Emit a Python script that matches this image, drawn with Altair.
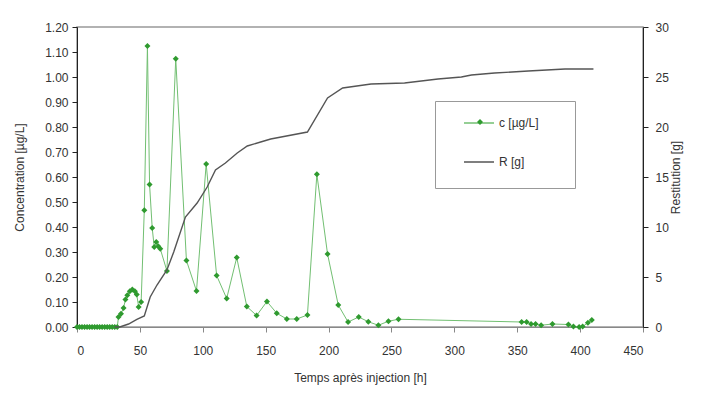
import altair as alt
import pandas as pd

# --- data ---
t_c = [0, 2, 4, 6, 8, 10, 12, 14, 16, 18, 20, 22, 24, 26, 28, 30, 32,
       33, 35, 37, 38.5, 40, 42, 44, 46, 47.5, 49, 51, 53.5, 56, 57.7, 59.8,
       61.4, 63, 64.6, 66.2, 71.5, 78.5, 87, 95, 102.7, 111, 119, 127, 135,
       142.8, 151, 158.8, 166.8, 174.7, 183.2, 190.7, 199.2, 207.7, 215.5,
       224, 231.6, 239.6, 247.6, 255.6, 353.5, 357.5, 361, 364.6, 369, 378,
       390.7, 394.7, 399.2, 402, 406.2, 409.3]
c_vals = [0] * 17 + [
    0.04, 0.053, 0.076, 0.11, 0.127, 0.143, 0.15, 0.143, 0.13, 0.08, 0.10,
    0.467, 1.124, 0.57, 0.396, 0.32, 0.34, 0.323, 0.313, 0.224, 1.073, 0.266,
    0.144, 0.652, 0.206, 0.114, 0.278, 0.082, 0.046, 0.102, 0.055, 0.032,
    0.032, 0.048, 0.611, 0.292, 0.088, 0.02, 0.04, 0.021, 0.007, 0.023, 0.031,
    0.02, 0.02, 0.012, 0.012, 0.007, 0.012, 0.01, 0.002, 0.0, 0.002, 0.017,
    0.028]

t_r = [30, 34, 41, 47.6, 53.5, 58.2, 63.6, 71.5, 76.9, 86.2, 95.5, 103.5,
       110.1, 118, 127.4, 135.4, 146, 154, 183.2, 199.2, 211.2, 233.8, 260.4,
       287, 305.6, 313.6, 332, 358.8, 388, 410.6]
r_vals = [0, 0, 0.3, 0.77, 1.1, 3.0, 4.2, 5.7, 7.5, 11.0, 12.4, 14.0, 15.7,
          16.4, 17.4, 18.1, 18.5, 18.8, 19.5, 22.9, 23.9, 24.3, 24.4, 24.8,
          25.0, 25.2, 25.4, 25.6, 25.8, 25.8]

series = ["c [µg/L]", "R [g]"]
x_ticks = list(range(0, 451, 50))
y_ticks = [round(i * 0.1, 2) for i in range(13)]
r_ticks = list(range(0, 31, 5))

df_c = pd.DataFrame({"t": t_c, "c": c_vals, "s": series[0]})
df_r = pd.DataFrame({"t": t_r, "R": r_vals, "s": series[1]})

FONT = "Liberation Sans"
GREEN_LINE = "#72bf72"
GREEN_PT = "#2f9a2f"
GREY = "#555555"
BOX = "M-1,-1H1V0.229H-1Z"

x_enc = alt.X("t:Q", scale=alt.Scale(domain=[0, 450], nice=False),
              axis=alt.Axis(values=x_ticks, title="Temps après injection [h]",
                            grid=False, domainColor="#888", tickColor="#888",
                            labelPadding=13, titlePadding=16))

# legend entries: line samples with labels (no frame)
stroke_legend = alt.Legend(
    title=None, orient="none", legendX=386, legendY=80,
    padding=0, rowPadding=17, symbolSize=900,
    symbolType="stroke", labelFont=FONT, labelFontSize=12, labelColor="#333",
    labelOffset=4, symbolStrokeWidth=1.5, zindex=2,
)
# marker drawn on the c sample
fill_legend = alt.Legend(
    title=None, orient="none", legendX=400, legendY=92,
    padding=0, symbolSize=36, symbolType="diamond", labelExpr="''",
    labelFontSize=1, labelOffset=0, symbolStrokeWidth=0, zindex=3,
)
# frame around the legend (invisible symbol that only sets the frame size)
frame_legend = alt.Legend(
    title=None, orient="none", legendX=358, legendY=74,
    padding=0, symbolSize=140 * 140, symbolType=BOX, symbolOpacity=0,
    symbolStrokeColor="transparent", symbolFillColor="transparent",
    symbolStrokeWidth=0,
    labelExpr="''", labelFontSize=1, labelOffset=0,
    strokeColor="#999", zindex=1,
)

stroke_enc = alt.Stroke("s:N", scale=alt.Scale(domain=series, range=[GREEN_LINE, GREY]),
                        legend=stroke_legend)
fill_enc = alt.Fill("s:N", scale=alt.Scale(domain=series[:1], range=[GREEN_PT]),
                    legend=fill_legend)
opacity_enc = alt.Opacity("s:N", scale=alt.Scale(domain=series[1:], range=[1]),
                          legend=frame_legend)

r_line = alt.Chart(df_r).mark_line(strokeWidth=1.4).encode(
    x=x_enc,
    y=alt.Y("R:Q", scale=alt.Scale(domain=[0, 30], nice=False),
            axis=alt.Axis(orient="right", values=r_ticks, title="Restitution [g]",
                          titleAngle=270, grid=False, titlePadding=14,
                          labelPadding=7)),
    stroke=stroke_enc,
    opacity=opacity_enc,
)

y_left = alt.Y("c:Q", scale=alt.Scale(domain=[0, 1.2], nice=False),
               axis=alt.Axis(values=y_ticks, format=".2f", title="Concentration [µg/L]",
                             grid=False, titlePadding=18, labelPadding=4))

c_line = alt.Chart(df_c).mark_line(strokeWidth=1).encode(
    x=x_enc, y=y_left, stroke=stroke_enc)
c_pts = alt.Chart(df_c).mark_point(shape="diamond", filled=True, size=36,
                                   opacity=1, strokeWidth=0).encode(
    x=x_enc, y=y_left, fill=fill_enc)

left = alt.layer(c_line, c_pts)
chart = alt.layer(left, r_line).resolve_scale(y="independent").properties(
    width=566, height=300,
    autosize=alt.AutoSizeParams(type="none"),
    padding={"left": 69, "top": 19, "right": 45, "bottom": 62},
).configure_view(stroke="#999", strokeWidth=1.5).configure_axis(
    labelFont=FONT, titleFont=FONT, labelFontSize=12, titleFontSize=12,
    labelColor="#333", titleColor="#333", titleFontWeight="normal",
    domainColor="#222", tickColor="#222", tickSize=5,
)

chart.save("out.html", embed_options={"renderer": "svg", "actions": False})
